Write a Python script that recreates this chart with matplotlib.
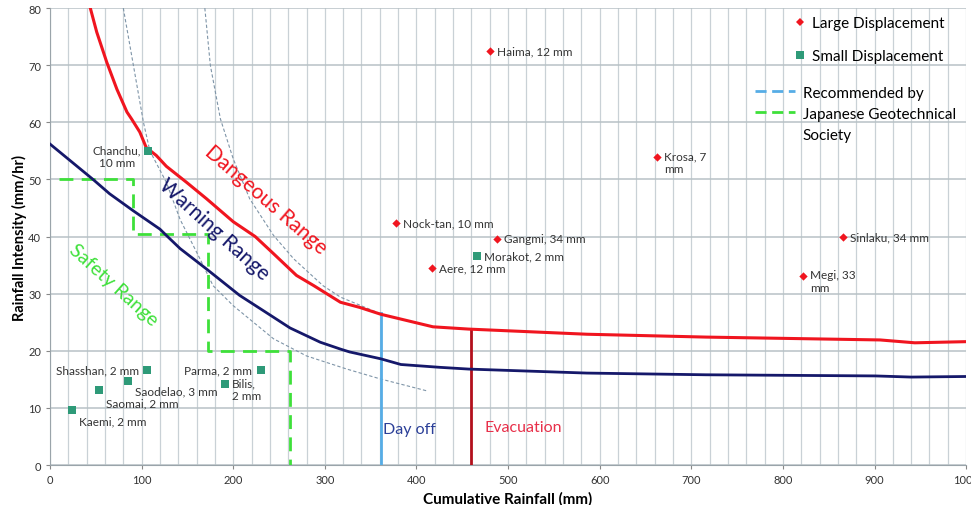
import numpy as np
import matplotlib.pyplot as plt
from matplotlib.lines import Line2D

plt.rcParams['font.family'] = ['Lato', 'DejaVu Sans']

# threshold curves (cumulative rainfall mm, intensity mm/hr)
danger_x = [44, 51, 62, 73, 84, 89, 98, 105, 116, 127, 149, 171, 200, 224, 244, 269, 288, 306, 317, 338,
            361, 418, 457, 586, 716, 906, 944, 1000]
danger_y = [80, 75.8, 70.5, 65.8, 61.8, 60.6, 58.3, 55.6, 54.2, 52.3, 49.5, 46.6, 42.6, 40.0, 37.0, 33.2, 31.4,
            29.6, 28.5, 27.6, 26.4, 24.2, 23.8, 22.9, 22.4, 21.9, 21.4, 21.6]

warn_x = [0, 47, 65, 91, 120, 127, 142, 171, 207, 236, 262, 295, 317, 327, 361, 383, 426, 457, 586, 716, 901, 940, 1000]
warn_y = [56.2, 50, 47.5, 44.5, 41.3, 40.2, 37.9, 34.3, 29.7, 26.7, 24.0, 21.5, 20.3, 19.8, 18.6, 17.6, 17.1, 16.8,
          16.1, 15.8, 15.6, 15.4, 15.5]

grey1_x = [80, 91, 102, 109, 127, 142, 164, 178, 200, 244, 280, 324, 360, 411]
grey1_y = [80, 70, 60, 55, 49.5, 43, 36, 31.4, 27.9, 22.1, 19.1, 16.8, 15.1, 13.0]

grey2_x = [169, 175, 186, 200, 218, 244, 266, 298, 317, 353, 361]
grey2_y = [80, 70, 60.6, 53.6, 46.6, 40.2, 36.1, 31.4, 29.4, 27.0, 26.5]

# Japanese Geotechnical Society step line
jgs_x = [10, 91, 91, 173, 173, 262, 262]
jgs_y = [50, 50, 40.5, 40.5, 20, 20, 0]

dayoff_x = 361
dayoff_top = 26.6
evac_x = 460
evac_top = 23.6

# events
large_names = ['Haima, 12 mm', 'Krosa, 7\nmm', 'Nock-tan, 10 mm', 'Gangmi, 34 mm', 'Aere, 12 mm', 'Sinlaku, 34 mm', 'Megi, 33\nmm']
large_x = [480, 663, 378, 488, 417, 866, 822]
large_y = [72.5, 53.9, 42.4, 39.6, 34.5, 40.0, 33.1]

small_names = ['Chanchu,\n10 mm', 'Morakot, 2 mm', 'Shasshan, 2 mm', 'Saodelao, 3 mm', 'Saomai, 2 mm', 'Kaemi, 2 mm',
               'Parma, 2 mm', 'Bilis,\n2 mm']
small_x = [107, 466, 106, 85, 54, 24, 230, 191]
small_y = [55.0, 36.6, 16.6, 14.7, 13.1, 9.6, 16.6, 14.1]

RED = '#f0151f'
NAVY = '#15186a'
TEAL = '#2e9a78'
GREEN = '#3ee03a'
LBLUE = '#56ade6'
GREY = '#7f95a8'

fig = plt.figure(figsize=(9.71, 5.06), dpi=100)
ax = fig.add_axes([0.0515, 0.079, 0.9435, 0.903])

ax.plot(grey1_x, grey1_y, color=GREY, lw=0.8, ls=(0, (3, 2)), zorder=2)
ax.plot(grey2_x, grey2_y, color=GREY, lw=0.8, ls=(0, (3, 2)), zorder=2)
ax.plot(jgs_x, jgs_y, color=GREEN, lw=2, ls=(0, (5, 3)), zorder=3)
ax.plot(danger_x, danger_y, color=RED, lw=2.2, zorder=4)
ax.plot(warn_x, warn_y, color=NAVY, lw=2.0, zorder=4)
ax.plot([dayoff_x, dayoff_x], [0, dayoff_top], color=LBLUE, lw=2, zorder=3)
ax.plot([evac_x, evac_x], [0, evac_top], color='#b3101c', lw=2, zorder=3)

ax.scatter(large_x, large_y, marker='D', s=18, color=RED, zorder=5, linewidths=0)
ax.scatter(small_x, small_y, marker='s', s=30, color=TEAL, zorder=5, linewidths=0)

lab_fs = 8.5
lab_col = '#333333'
for n, x, y in zip(large_names, large_x, large_y):
    if '\n' in n:
        ax.annotate(n, (x, y), xytext=(5, 5), textcoords='offset points', fontsize=lab_fs, color=lab_col,
                    ha='left', va='top')
    else:
        ax.annotate(n, (x, y), xytext=(5, 0), textcoords='offset points', fontsize=lab_fs, color=lab_col,
                    ha='left', va='center')

small_off = {
    'Chanchu,\n10 mm': (-5, 5, 'right', 'top'),
    'Morakot, 2 mm': (5, 0, 'left', 'center'),
    'Shasshan, 2 mm': (-6, 0, 'right', 'center'),
    'Saodelao, 3 mm': (5, -3, 'left', 'top'),
    'Saomai, 2 mm': (5, -5, 'left', 'top'),
    'Kaemi, 2 mm': (5, -4, 'left', 'top'),
    'Parma, 2 mm': (-6, 0, 'right', 'center'),
    'Bilis,\n2 mm': (5, 5, 'left', 'top'),
}
for n, x, y in zip(small_names, small_x, small_y):
    dx, dy, ha, va = small_off[n]
    ax.annotate(n, (x, y), xytext=(dx, dy), textcoords='offset points', fontsize=lab_fs, color=lab_col,
                ha=ha, va=va, multialignment='center' if n.startswith('Chanchu') else 'left')

ax.text(236, 46.6, 'Dangeous Range', color=RED, fontsize=15, rotation=-41, ha='center', va='center', rotation_mode='anchor')
ax.text(179, 41.4, 'Warning Range', color=NAVY, fontsize=15, rotation=-42, ha='center', va='center', rotation_mode='anchor')
ax.text(69, 31.7, 'Safety Range', color=GREEN, fontsize=14, rotation=-42, ha='center', va='center', rotation_mode='anchor')
ax.text(dayoff_x + 3, 6.3, 'Day off', color='#2b3f98', fontsize=11.5, ha='left', va='center')
ax.text(evac_x + 14, 6.6, 'Evacuation', color='#e8304a', fontsize=11.5, ha='left', va='center')

ax.set_xlim(0, 1000)
ax.set_ylim(0, 80)
ax.set_xticks(np.arange(0, 1001, 100))
ax.set_xticks(np.arange(0, 1001, 20), minor=True)
ax.set_yticks(np.arange(0, 81, 10))
ax.grid(which='both', axis='x', color='#c9d1d6', lw=0.9)
ax.grid(which='major', axis='y', color='#b8c1c6', lw=1.1)
ax.set_axisbelow(True)
ax.tick_params(axis='both', which='major', labelsize=8, colors='#888888', labelcolor='#333333', length=3)
ax.tick_params(axis='x', which='minor', length=0)
for s in ['top', 'right']:
    ax.spines[s].set_visible(False)
for s in ['left', 'bottom']:
    ax.spines[s].set_color('#9aa4aa')

ax.set_xlabel('Cumulative Rainfall (mm)', fontsize=11, fontweight='bold', labelpad=4)
ax.set_ylabel('Rainfall Intensity (mm/hr)', fontsize=10.5, fontweight='bold', labelpad=1)

h1 = [Line2D([], [], ls='none', marker='D', ms=4.5, color=RED, mew=0),
      Line2D([], [], ls='none', marker='s', ms=5.5, color=TEAL, mew=0)]
leg1 = ax.legend(h1, ['Large Displacement', 'Small Displacement'], loc='upper left', bbox_to_anchor=(0.797, 1.012),
                 frameon=False, fontsize=11, handlelength=0.8, handletextpad=0.4, labelspacing=1.25)
ax.add_artist(leg1)
h2 = [Line2D([], [], color=LBLUE, lw=2, ls=(0, (4, 2))),
      Line2D([], [], color=GREEN, lw=2, ls=(0, (4, 2))),
      Line2D([], [], color='none')]
ax.legend(h2, ['Recommended by', 'Japanese Geotechnical', 'Society'], loc='upper left', bbox_to_anchor=(0.755, 0.86),
          frameon=False, fontsize=11, handlelength=2.6, handletextpad=0.5, labelspacing=0.45)

fig.savefig('out.png', dpi=100)
